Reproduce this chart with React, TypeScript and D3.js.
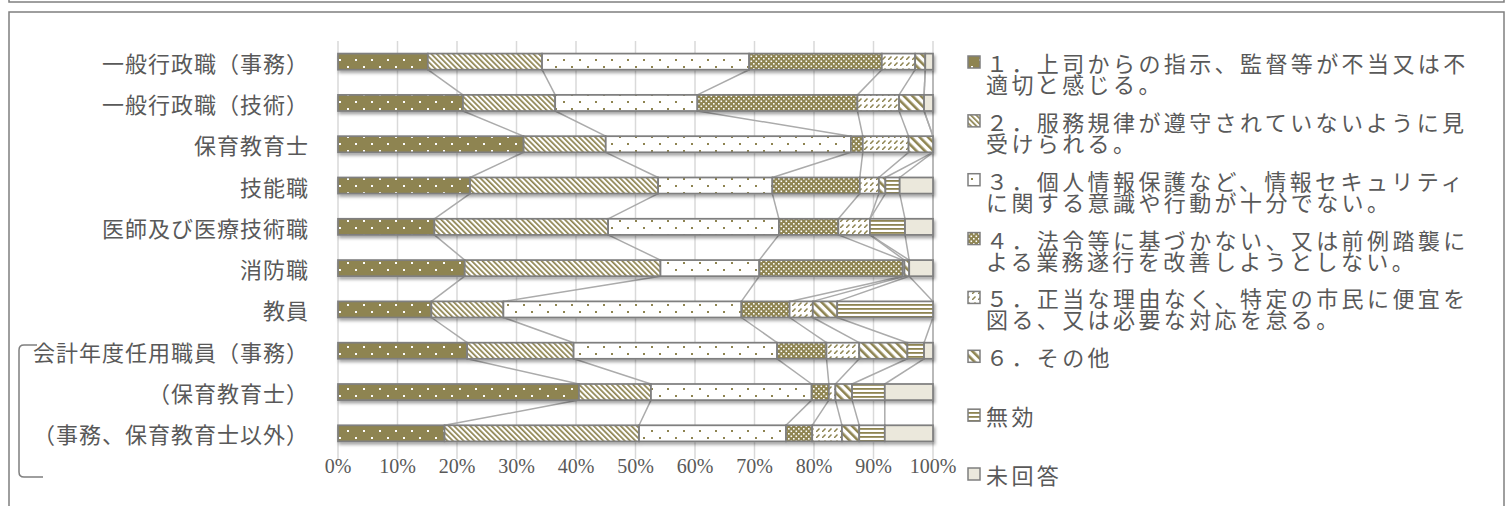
import React from "react";
import * as d3 from "d3";

// Job categories, top to bottom
const categories = [
  "一般行政職（事務）",
  "一般行政職（技術）",
  "保育教育士",
  "技能職",
  "医師及び医療技術職",
  "消防職",
  "教員",
  "会計年度任用職員（事務）",
  "（保育教育士）",
  "（事務、保育教育士以外）",
];

// Share of answers (%) per category, one array per answer option
const answer1 = [15.1, 21.0, 31.2, 22.2, 16.2, 21.3, 15.7, 21.7, 40.5, 17.9];
const answer2 = [19.2, 15.5, 13.8, 31.6, 29.2, 32.9, 12.1, 17.9, 12.1, 32.7];
const answer3 = [34.8, 23.9, 41.2, 19.2, 28.7, 16.6, 40.0, 34.2, 27.0, 24.7];
const answer4 = [22.3, 26.9, 2.0, 14.7, 10.0, 24.1, 8.1, 8.3, 2.9, 4.4];
const answer5 = [5.6, 7.0, 7.7, 3.2, 5.3, 0.3, 3.9, 5.5, 1.1, 5.0];
const answer6 = [1.7, 4.2, 4.1, 1.1, 0.0, 0.8, 4.1, 8.1, 2.8, 2.9];
const invalid = [0.0, 0.0, 0.0, 2.4, 5.9, 0.0, 16.1, 2.8, 5.5, 4.3];
const noAnswer = [1.3, 1.5, 0.0, 5.6, 4.7, 4.0, 0.0, 1.5, 8.1, 8.1];

const seriesKeys = ["a1", "a2", "a3", "a4", "a5", "a6", "inv", "none"];
const seriesValues = [answer1, answer2, answer3, answer4, answer5, answer6, invalid, noAnswer];

// Legend wording (already broken into lines)
const legendLines = [
  ["１．上司からの指示、監督等が不当又は不", "適切と感じる。"],
  ["２．服務規律が遵守されていないように見", "受けられる。"],
  ["３．個人情報保護など、情報セキュリティ", "に関する意識や行動が十分でない。"],
  ["４．法令等に基づかない、又は前例踏襲に", "よる業務遂行を改善しようとしない。"],
  ["５．正当な理由なく、特定の市民に便宜を", "図る、又は必要な対応を怠る。"],
  ["６．その他"],
  ["無効"],
  ["未回答"],
];

const xTicks = [0, 10, 20, 30, 40, 50, 60, 70, 80, 90, 100];

const OLIVE = "#8e8451";
const BORDER = "#7f7f7f";
const TEXT = "#595959";
const JP = "'Noto Sans CJK JP', 'Noto Sans', sans-serif";

const W = 1506;
const H = 506;

export default function App() {
  const x = d3.scaleLinear().domain([0, 100]).range([338, 933]);
  const y = d3
    .scaleBand<string>()
    .domain(categories)
    .range([41, 454])
    .paddingInner(0.61)
    .paddingOuter(0.305);
  const bw = y.bandwidth();

  const rows = categories.map((cat, i) => {
    const o: Record<string, any> = { cat };
    seriesKeys.forEach((k, j) => (o[k] = seriesValues[j][i]));
    return o;
  });
  const stacked = d3.stack<any>().keys(seriesKeys)(rows);

  const legendY = d3
    .scalePoint<string>()
    .domain(seriesKeys)
    .range([62, 474]);

  const fills = seriesKeys.map((k) => `url(#pat-${k})`);

  // Connector lines between consecutive bars at each cumulative boundary
  const seriesLines: { x1: number; y1: number; x2: number; y2: number }[] = [];
  for (let i = 0; i < categories.length - 1; i++) {
    stacked.forEach((layer) => {
      seriesLines.push({
        x1: x(layer[i][1]),
        y1: (y(categories[i]) as number) + bw,
        x2: x(layer[i + 1][1]),
        y2: y(categories[i + 1]) as number,
      });
    });
  }

  return (
    <div style={{ position: "absolute", left: 0, top: 0 }}>
      <svg width={W} height={H} style={{ display: "block", background: "#fff" }}>
        <defs>
          <pattern id="pat-a1" width={16} height={14} patternUnits="userSpaceOnUse">
            <rect width={16} height={14} fill={OLIVE} />
            <rect x={3} y={3} width={2} height={2} fill="#fff" />
            <rect x={11} y={10} width={2} height={2} fill="#fff" />
          </pattern>
          <pattern id="pat-a2" width={3.8} height={3.8} patternUnits="userSpaceOnUse" patternTransform="rotate(-45)">
            <rect width={3.8} height={3.8} fill="#fff" />
            <rect width={1.7} height={3.8} fill={OLIVE} />
          </pattern>
          <pattern id="pat-a3" width={16} height={14} patternUnits="userSpaceOnUse">
            <rect width={16} height={14} fill="#fff" />
            <rect x={3} y={3} width={2} height={2} fill={OLIVE} />
            <rect x={11} y={10} width={2} height={2} fill={OLIVE} />
          </pattern>
          <pattern id="pat-a4" width={5} height={5} patternUnits="userSpaceOnUse">
            <rect width={5} height={5} fill={OLIVE} />
            <rect x={0.5} y={0.5} width={1.6} height={1.6} fill="#fff" />
            <rect x={3} y={3} width={1.6} height={1.6} fill="#fff" />
          </pattern>
          <pattern id="pat-a5" width={6} height={6} patternUnits="userSpaceOnUse">
            <rect width={6} height={6} fill="#fff" />
            <line x1={0} y1={6} x2={3.5} y2={2.5} stroke={OLIVE} strokeWidth={1.5} />
          </pattern>
          <pattern id="pat-a6" width={6} height={6} patternUnits="userSpaceOnUse" patternTransform="rotate(-45)">
            <rect width={6} height={6} fill="#fff" />
            <rect width={2.6} height={6} fill={OLIVE} />
          </pattern>
          <pattern id="pat-inv" width={4} height={4} patternUnits="userSpaceOnUse">
            <rect width={4} height={4} fill="#fff" />
            <rect width={4} height={1.8} fill={OLIVE} />
          </pattern>
          <pattern id="pat-none" width={4} height={4} patternUnits="userSpaceOnUse">
            <rect width={4} height={4} fill="#ebe8dc" />
          </pattern>
          <filter id="barShadow" x="-5%" y="-30%" width="110%" height="180%">
            <feDropShadow dx={1.5} dy={2.5} stdDeviation={1.5} floodColor="#000" floodOpacity={0.35} />
          </filter>
        </defs>

        {/* frames */}
        <rect x={9} y={-20} width={1495} height={22} fill="none" stroke={BORDER} strokeWidth={1.5} />
        <rect x={9} y={12} width={1495} height={510} fill="none" stroke={BORDER} strokeWidth={1.5} />

        {/* vertical gridlines */}
        {xTicks.map((t) => (
          <line key={t} x1={x(t)} x2={x(t)} y1={41} y2={459} stroke="#d9d9d9" strokeWidth={1.5} />
        ))}

        {/* series lines */}
        {seriesLines.map((l, i) => (
          <line key={i} {...l} stroke="#ababab" strokeWidth={1.5} />
        ))}

        {/* stacked bars */}
        {categories.map((cat, i) => (
          <g key={cat} filter="url(#barShadow)">
            {stacked.map((layer, j) => {
              const [a, b] = layer[i];
              if (b - a <= 0) return null;
              return (
                <rect
                  key={j}
                  x={x(a)}
                  y={y(cat)}
                  width={x(b) - x(a)}
                  height={bw}
                  fill={fills[j]}
                  stroke={BORDER}
                  strokeWidth={1.75}
                />
              );
            })}
          </g>
        ))}

        {/* category labels */}
        {categories.map((cat) => (
          <text
            key={cat}
            x={309}
            y={(y(cat) as number) + bw / 2}
            textAnchor="end"
            dominantBaseline="central"
            fontFamily={JP}
            fontSize={22}
            letterSpacing={1}
            fill={TEXT}
          >
            {cat}
          </text>
        ))}

        {/* bracket grouping the fiscal-year appointees */}
        <path
          d="M37,345 H24 Q19,345 19,350 V472 Q19,477 24,477 H43"
          fill="none"
          stroke={BORDER}
          strokeWidth={1.5}
        />

        {/* x axis tick labels */}
        {xTicks.map((t) => (
          <text
            key={t}
            x={x(t)}
            y={466}
            textAnchor="middle"
            dominantBaseline="central"
            fontFamily="'Liberation Serif', 'DejaVu Serif', serif"
            fontSize={20}
            fill={TEXT}
          >
            {t}%
          </text>
        ))}

        {/* legend */}
        {seriesKeys.map((k, j) => {
          const ly = legendY(k) as number;
          return (
            <g key={k}>
              <rect x={968} y={ly - 6} width={12} height={12} fill={fills[j]} stroke={BORDER} strokeWidth={1.5} />
              {legendLines[j].map((line, li) => (
                <text
                  key={li}
                  x={986}
                  y={ly + li * 21}
                  dominantBaseline="central"
                  fontFamily={JP}
                  fontSize={22}
                  letterSpacing={3.4}
                  fill={TEXT}
                >
                  {line}
                </text>
              ))}
            </g>
          );
        })}
      </svg>
    </div>
  );
}
